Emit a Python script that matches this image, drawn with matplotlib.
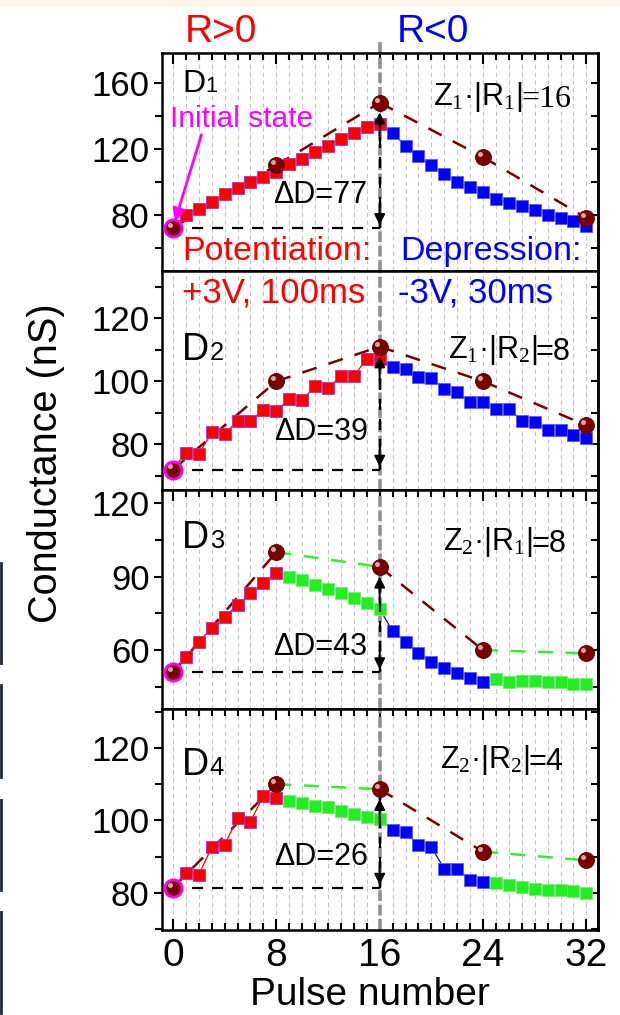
import numpy as np
import matplotlib.pyplot as plt
from matplotlib.ticker import MultipleLocator
from matplotlib.transforms import offset_copy
from matplotlib.lines import Line2D
from matplotlib.patches import Rectangle

plt.rcParams['font.family'] = ['Liberation Sans', 'DejaVu Sans']
plt.rcParams['mathtext.fontset'] = 'custom'
plt.rcParams['mathtext.rm'] = 'Liberation Serif'
plt.rcParams['mathtext.it'] = 'Liberation Serif:italic'
plt.rcParams['mathtext.sf'] = 'Liberation Sans'

# --- data ---
pulses = np.arange(1, 33)
ball_x = [0, 8, 16, 24, 32]

d1_sq = [80, 83.5, 88, 92.5, 96, 99.6, 103, 106,
         111, 114, 118, 122, 126, 129.5, 133, 135,
         129.5, 122, 115.5, 110, 105, 99.6, 97, 94,
         89.5, 87, 85, 82.6, 80, 78, 76, 73.3]
d1_balls = [72, 110, 148, 115, 78]

d2_sq = [77.4, 76.9, 83.8, 83.3, 87.5, 87.5, 90.9, 90.6,
         94.4, 94.0, 98.4, 98.0, 101.6, 101.6, 107.2, 107.2,
         104.5, 104.0, 101.3, 101.1, 97.6, 96.5, 93.4, 93.4,
         91.2, 91.2, 87.5, 87.0, 84.5, 84.5, 83.0, 82.0]
d2_balls = [72, 100, 111, 100, 86]

d3_sq = [57.2, 63.4, 69.1, 73.6, 78.4, 83.2, 87.3, 91.4,
         90, 88.6, 86.6, 84.9, 83.2, 81.1, 79.1, 76.8,
         67.7, 63.4, 58.6, 55.2, 52.7, 50.8, 48.6, 47.0,
         48.1, 46.8, 47.3, 47.3, 46.8, 46.8, 46.3, 46.3]
d3_balls = [51, 100, 94, 60, 58.6]

d4_sq = [85.5, 85.1, 92.6, 93.3, 100.7, 99.7, 106.8, 106.3,
         105.4, 104.7, 104.0, 103.6, 102.7, 101.8, 101.0, 100.4,
         97.4, 96.7, 93.3, 92.6, 86.7, 86.7, 83.5, 83.0,
         82.7, 82.1, 81.6, 81.2, 80.9, 80.7, 80.5, 80.0]
d4_balls = [81.5, 110, 108.6, 91.4, 89]

delta_d = [77, 39, 43, 26]
panel_names = ['1', '2', '3', '4']
z_labels = [r'Z$_1$·|R$_1$|', r'Z$_1$·|R$_2$|', r'Z$_2$·|R$_1$|', r'Z$_2$·|R$_2$|']
z_values = ['=16', '=8', '=8', '=4']
z_value_fonts = ['Liberation Serif', 'Liberation Sans', 'Liberation Sans', 'Liberation Sans']

RED, BLUE, GREEN, DRED = '#ff0000', '#0000ff', '#22ee22', '#7a0000'
EDGE = {RED: '#b030c0', BLUE: '#5a5aff', GREEN: '#7be87b'}
sq_colors = [[RED, RED, BLUE, BLUE], [RED, RED, BLUE, BLUE],
             [RED, GREEN, BLUE, GREEN], [RED, GREEN, BLUE, GREEN]]
ball_line_colors = [[DRED] * 4, [DRED] * 4,
                    [DRED, '#33ee33', DRED, '#33ee33'],
                    [DRED, '#33ee33', DRED, '#33ee33']]

squares = [d1_sq, d2_sq, d3_sq, d4_sq]
balls_all = [d1_balls, d2_balls, d3_balls, d4_balls]
ylims = [(45.8, 178.2), (65.5, 135), (35.9, 125.4), (69.8, 130.7)]
ymajor = [40, 20, 30, 20]
yminor = [20, 10, 15, 10]
d_pos = [(0.046, 0.821, 23), (0.046, 0.594, 27), (0.046, 0.734, 27), (0.046, 0.701, 27)]
z_pos = [(0.622, 0.761), (0.656, 0.603), (0.645, 0.726), (0.638, 0.732)]
dd_pos = [(0.255, 0.312), (0.257, 0.228), (0.255, 0.247), (0.257, 0.294)]

fig = plt.figure(figsize=(6.2, 10.15), dpi=100)
gs = fig.add_gridspec(4, 1, left=0.2613, right=0.9645, top=0.9478, bottom=0.0837,
                      hspace=0, height_ratios=[218, 219, 219, 221])
axes = [fig.add_subplot(gs[i]) for i in range(4)]

for i, ax in enumerate(axes):
    sq = np.array(squares[i])
    balls = balls_all[i]

    ax.set_xlim(-0.85, 32.9)
    ax.set_ylim(*ylims[i])
    ax.xaxis.set_major_locator(MultipleLocator(8))
    ax.xaxis.set_minor_locator(MultipleLocator(1))
    ax.yaxis.set_major_locator(MultipleLocator(ymajor[i]))
    ax.yaxis.set_minor_locator(MultipleLocator(yminor[i]))
    ax.grid(True, which='both', axis='x', color='#c4c4c4', lw=0.8, ls=(0, (4, 3)), zorder=0)
    ax.set_axisbelow(True)

    # gray separator at pulse 16
    ax.axvline(16, color='#909090', lw=2.6, ls=(0, (3, 1)), zorder=1)

    # square series, 4 segments of 8 pulses
    prev_x, prev_y = 0, balls[0]
    for k in range(4):
        xs = pulses[8 * k:8 * k + 8]
        ys = sq[8 * k:8 * k + 8]
        c = sq_colors[i][k]
        ax.plot(np.r_[prev_x, xs], np.r_[prev_y, ys], color=c, lw=0.9, zorder=4)
        ax.plot(xs, ys, 's', ms=8.6, mfc=c, mec=EDGE[c], mew=0.6, zorder=5)
        prev_x, prev_y = xs[-1], ys[-1]

    # dashed lines between balls
    for k in range(4):
        ax.plot(ball_x[k:k + 2], balls[k:k + 2], color=ball_line_colors[i][k],
                lw=1.8, ls=(0, (6, 5)), zorder=3)

    # initial level and delta arrow
    ax.plot([1.5, 16], [balls[0], balls[0]], color='k', lw=1.6, ls=(0, (5, 4)), zorder=6)
    ax.plot([16, 16], [balls[0], balls[2]], color='k', lw=1.6, ls=(0, (5, 4)), zorder=6)
    ax.annotate('', xy=(16, balls[0]), xytext=(0, 16), textcoords='offset points',
                arrowprops=dict(arrowstyle='-|>', color='k', lw=1.4, mutation_scale=16,
                                shrinkA=0, shrinkB=2), zorder=6)
    ax.annotate('', xy=(16, balls[2]), xytext=(0, -24), textcoords='offset points',
                arrowprops=dict(arrowstyle='-|>', color='k', lw=1.4, mutation_scale=16,
                                shrinkA=0, shrinkB=7), zorder=6)

    # balls
    ax.plot(ball_x, balls, 'o', ms=11.5, mfc=DRED, mec='#5a0000', mew=0.6, zorder=7)
    hl = offset_copy(ax.transData, fig=fig, x=-2.2, y=2.2, units='points')
    ax.plot(ball_x, balls, 'o', ms=3.6, mfc='#e6c4c4', mec='none', alpha=0.85,
            transform=hl, zorder=8)
    ax.plot(0, balls[0], 'o', ms=12.5, mfc='none', mec='#ff00ff', mew=2, zorder=8)

    # ticks
    ax.tick_params(axis='x', which='both', direction='in', top=(i != 1), bottom=(i == 3),
                   labelbottom=(i == 3), width=1.5, labelsize=28, pad=6)
    ax.tick_params(axis='x', which='major', length=8)
    ax.tick_params(axis='x', which='minor', length=5)
    ax.tick_params(axis='y', which='both', direction='out', width=1.5, labelsize=25, pad=3)
    ax.tick_params(axis='y', which='major', length=6)
    ax.tick_params(axis='y', which='minor', length=5)
    sec = ax.secondary_yaxis('right')
    sec.yaxis.set_major_locator(MultipleLocator(ymajor[i]))
    sec.yaxis.set_minor_locator(MultipleLocator(yminor[i]))
    sec.tick_params(axis='y', which='both', direction='in', length=5, width=1.5, labelright=False)
    for s in ax.spines.values():
        s.set_linewidth(1.8)
    sec.spines['right'].set_linewidth(1.8)

    # labels
    dx, dy, dfs = d_pos[i]
    ax.annotate('D', xy=(dx, dy), xycoords='axes fraction', fontsize=dfs, va='baseline', zorder=9)
    ax.annotate(panel_names[i], xy=(dx, dy), xycoords='axes fraction',
                xytext=(dfs * 0.74, 0), textcoords='offset points',
                fontsize=dfs * 0.68, va='baseline', zorder=9)
    zt = ax.text(z_pos[i][0], z_pos[i][1], z_labels[i], transform=ax.transAxes,
                 fontsize=22, va='baseline', zorder=9)
    ax.annotate(z_values[i], xy=(1, 0), xycoords=zt, xytext=(-1, 5.2),
                textcoords='offset points', fontsize=23 if i == 0 else 22, va='baseline',
                family=z_value_fonts[i], zorder=9)
    ax.text(dd_pos[i][0], dd_pos[i][1], '\u0394D=%d' % delta_d[i], transform=ax.transAxes,
            fontsize=22, va='baseline', zorder=9)

# annotations
ax1, ax2 = axes[0], axes[1]
ax1.text(0.018, 0.662, 'Initial state', transform=ax1.transAxes, color='#ff00ff',
         fontsize=21.5, va='baseline', zorder=9)
ax1.annotate('', xy=(0, d1_balls[0]), xytext=(2.2, 128.5),
             arrowprops=dict(arrowstyle='-|>', color='#ff00ff', lw=2, mutation_scale=18,
                             shrinkA=0, shrinkB=5), zorder=9)
ax1.text(0.046, 0.05, 'Potentiation:', transform=ax1.transAxes, color=RED,
         fontsize=24.5, va='baseline', zorder=9)
ax1.text(0.546, 0.05, 'Depression:', transform=ax1.transAxes, color=BLUE,
         fontsize=24.5, va='baseline', zorder=9)
ax2.text(0.046, 0.854, '+3V, 100ms', transform=ax2.transAxes, color=RED,
         fontsize=25, va='baseline', zorder=9)
ax2.text(0.541, 0.854, '-3V, 30ms', transform=ax2.transAxes, color=BLUE,
         fontsize=25, va='baseline', zorder=9)

# gray separator continues above the top panel
ax1.plot([16, 16], [1.0, 1.06], transform=ax1.get_xaxis_transform(), clip_on=False,
         color='#909090', lw=2.6, ls=(0, (3, 1)))

fig.text(0.298, 0.959, 'R>0', color=RED, fontsize=28, va='baseline')
fig.text(0.640, 0.959, 'R<0', color=BLUE, fontsize=28, va='baseline')
fig.text(0.075, 0.544, 'Conductance (nS)', rotation=90, fontsize=28.5, ha='center', va='center')
fig.text(0.597, 0.0098, 'Pulse number', fontsize=28, ha='center', va='baseline')

# page edge bits
fig.patches.append(Rectangle((0, 0.994), 1, 0.006, transform=fig.transFigure,
                             color='#fcf5ec', zorder=0))
for y0, y1 in [(563, 663), (685, 777), (800, 890), (912, 1013)]:
    fig.lines.append(Line2D([0.002, 0.002], [1 - y0 / 1015, 1 - y1 / 1015],
                            transform=fig.transFigure, color='#202838', lw=2))

fig.savefig('out.png', dpi=100)
